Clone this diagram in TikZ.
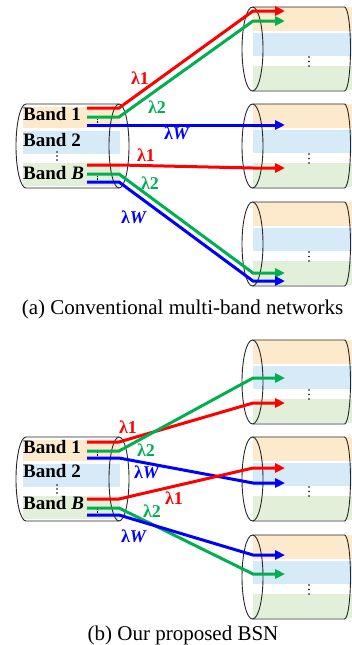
\documentclass[tikz,border=0pt]{standalone}
\usepackage{fontspec}
\setmainfont{Liberation Serif}
\usetikzlibrary{arrows.meta}
\definecolor{bor}{RGB}{253,233,204}
\definecolor{bbl}{RGB}{214,234,248}
\definecolor{bgr}{RGB}{226,240,217}
\definecolor{lred}{RGB}{255,0,0}
\definecolor{lgrn}{RGB}{0,176,80}
\definecolor{lblu}{RGB}{0,0,255}
\tikzset{
  cyl/.style={draw=black!85, line width=0.9pt},
  wl/.style={line width=3pt, line join=miter, -{Triangle[length=10pt,width=9pt]}},
  wlbl/.style={inner sep=0pt, font=\fontsize{18}{20}\selectfont\bfseries},
  bandlbl/.style={inner sep=0pt, anchor=base west, font=\fontsize{19}{22}\selectfont\bfseries},
  caplbl/.style={inner sep=0pt, anchor=base, font=\fontsize{21}{25}\selectfont},
  leftcyl/.pic={
    \fill[bor] (-96,3) rectangle (1,24);
    \fill[bbl] (-96,27) rectangle (1,50);
    \fill[bgr] (-96,59) rectangle (1,82);
    \draw[cyl] (0,0) -- (-93,0) arc[start angle=90,end angle=270,x radius=10pt,y radius=42pt] -- (0,84);
    \draw[cyl] (0,42) ellipse[x radius=10pt,y radius=42pt];
    \fill (-62,48) circle (0.9pt) (-62,52) circle (0.9pt) (-62,56) circle (0.9pt);
  },
  rightcyl/.pic={
    \fill[bor] (0,0) rectangle (99,24);
    \fill[bbl] (0,26) rectangle (99,49);
    \fill[bgr] (0,59) rectangle (99,83);
    \draw[cyl] (0,0) -- (92,0) arc[start angle=90,end angle=-90,x radius=6pt,y radius=42pt] -- (0,84);
    \draw[cyl] (0,42) ellipse[x radius=10.5pt,y radius=42pt];
    \fill (56.5,50) circle (0.9pt) (56.5,54.5) circle (0.9pt) (56.5,59) circle (0.9pt);
  },
}
\begin{document}
\begin{tikzpicture}[x=1pt,y=-1pt]
\useasboundingbox (0,0) rectangle (352,645);
\clip (0,0) rectangle (352,645);

% ---------------- (a) ----------------
\pic at (119,104) {leftcyl};
\pic at (252.5,7) {rightcyl};
\pic at (252.5,104) {rightcyl};
\pic at (252.5,202) {rightcyl};

\node[bandlbl] (a1) at (23,120) {Band 1};
\node[bandlbl] (a2) at (23,146) {Band 2};
\node[bandlbl] (aB) at (23,179) {Band \textit{B}};

\draw[densely dotted, line width=0.6pt] (97,119) -- (97,123);
\draw[densely dotted, line width=0.6pt] (97,176) -- (97,180);

\coordinate (aR1s) at (87,108); \coordinate (aR1b) at (119,108); \coordinate (aR1c) at (253,11); \coordinate (aR1e) at (285,11);
\coordinate (aG1s) at (87,117); \coordinate (aG1b) at (119,117); \coordinate (aG1c) at (253,21); \coordinate (aG1e) at (285,21);
\coordinate (aB1s) at (87,125); \coordinate (aB1e) at (285,125);
\coordinate (aR2s) at (87,165); \coordinate (aR2b) at (119,165); \coordinate (aR2c) at (253,168); \coordinate (aR2e) at (285,168);
\coordinate (aG2s) at (87,174); \coordinate (aG2b) at (119,174); \coordinate (aG2c) at (253,273); \coordinate (aG2e) at (285,273);
\coordinate (aB2s) at (87,182); \coordinate (aB2b) at (119,182); \coordinate (aB2c) at (253,281); \coordinate (aB2e) at (285,281);

\draw[wl, lred] (aR1s) -- (aR1b) -- (aR1c) -- (aR1e);
\draw[wl, lgrn] (aG1s) -- (aG1b) -- (aG1c) -- (aG1e);
\draw[wl, lblu] (aB1s) -- (aB1e);
\draw[wl, lred] (aR2s) -- (aR2b) -- (aR2c) -- (aR2e);
\draw[wl, lgrn] (aG2s) -- (aG2b) -- (aG2c) -- (aG2e);
\draw[wl, lblu] (aB2s) -- (aB2b) -- (aB2c) -- (aB2e);

\node[wlbl, lred] (aL1) at (140,78) {λ1};
\node[wlbl, lgrn] (aL2) at (157,107) {λ2};
\node[wlbl, lblu] (aLW) at (177,133) {λ\textit{W}};
\node[wlbl, lred] (aL1b) at (146,155) {λ1};
\node[wlbl, lgrn] (aL2b) at (150,183) {λ2};
\node[wlbl, lblu] (aLWb) at (134,217) {λ\textit{W}};

\node[caplbl] (capa) at (182.5,314) {(a) Conventional multi-band networks};

% ---------------- (b) ----------------
\pic at (119,437) {leftcyl};
\pic at (252.5,340) {rightcyl};
\pic at (252.5,437) {rightcyl};
\pic at (252.5,535) {rightcyl};

\node[bandlbl] (b1) at (23,453) {Band 1};
\node[bandlbl] (b2) at (23,477) {Band 2};
\node[bandlbl] (bB) at (23,509) {Band \textit{B}};

\draw[densely dotted, line width=0.6pt] (97,452) -- (97,456);
\draw[densely dotted, line width=0.6pt] (97,509) -- (97,513);

\coordinate (bR1s) at (87,442); \coordinate (bR1b) at (119,442); \coordinate (bR1c) at (253,403); \coordinate (bR1e) at (285,403);
\coordinate (bG1s) at (87,451); \coordinate (bG1b) at (119,451); \coordinate (bG1c) at (253,378); \coordinate (bG1e) at (285,378);
\coordinate (bB1s) at (87,458); \coordinate (bB1b) at (119,458); \coordinate (bB1c) at (253,483); \coordinate (bB1e) at (285,483);
\coordinate (bR2s) at (87,499); \coordinate (bR2b) at (119,499); \coordinate (bR2c) at (253,468); \coordinate (bR2e) at (285,468);
\coordinate (bG2s) at (87,508); \coordinate (bG2b) at (119,508); \coordinate (bG2c) at (253,574); \coordinate (bG2e) at (285,574);
\coordinate (bB2s) at (87,515); \coordinate (bB2b) at (119,515); \coordinate (bB2c) at (253,555); \coordinate (bB2e) at (285,555);

\draw[wl, lblu] (bB1s) -- (bB1b) -- (bB1c) -- (bB1e);
\draw[wl, lred] (bR1s) -- (bR1b) -- (bR1c) -- (bR1e);
\draw[wl, lgrn] (bG1s) -- (bG1b) -- (bG1c) -- (bG1e);
\draw[wl, lred] (bR2s) -- (bR2b) -- (bR2c) -- (bR2e);
\draw[wl, lgrn] (bG2s) -- (bG2b) -- (bG2c) -- (bG2e);
\draw[wl, lblu] (bB2s) -- (bB2b) -- (bB2c) -- (bB2e);

\node[wlbl, lred] (bL1) at (128,427) {λ1};
\node[wlbl, lgrn] (bL2) at (146,450) {λ2};
\node[wlbl, lblu] (bLW) at (147,472) {λ\textit{W}};
\node[wlbl, lred] (bL1b) at (174,498) {λ1};
\node[wlbl, lgrn] (bL2b) at (152,511) {λ2};
\node[wlbl, lblu] (bLWb) at (134,536) {λ\textit{W}};

\node[caplbl] (capb) at (183,640) {(b) Our proposed BSN};
\end{tikzpicture}
\end{document}
